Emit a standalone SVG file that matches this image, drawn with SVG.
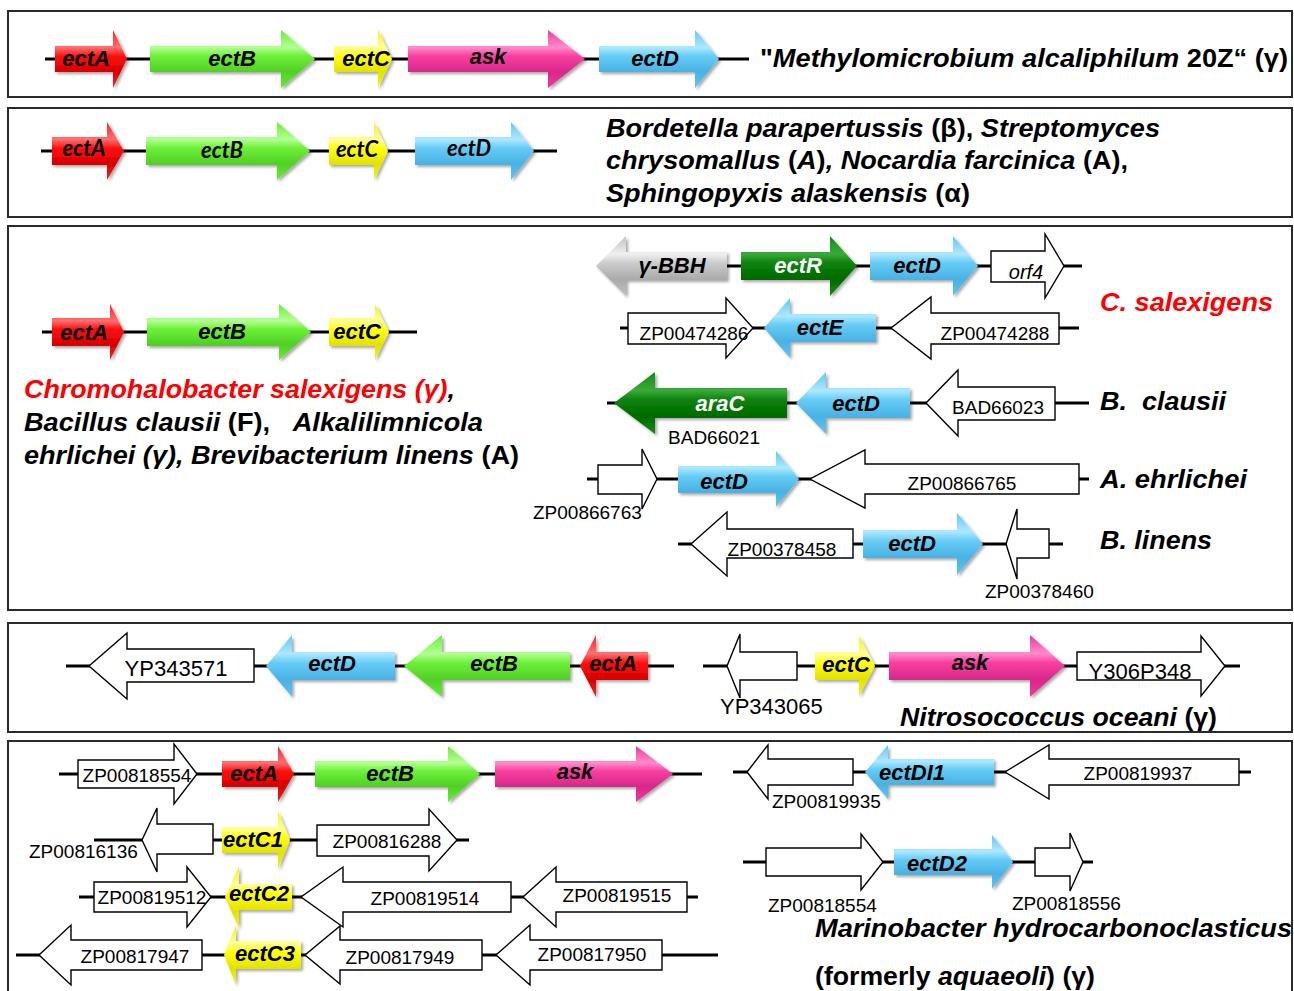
<svg xmlns="http://www.w3.org/2000/svg" width="1294" height="991" viewBox="0 0 1294 991">
<style>
.box{fill:#fff;stroke:#2a2a2a;stroke-width:2}
.bb{stroke:#000;stroke-width:3;fill:none}
.w{fill:#fff;stroke:#000;stroke-width:1.4}
.red{fill:url(#gRed);filter:url(#sh)}
.grn{fill:url(#gGrn);filter:url(#sh)}
.yel{fill:url(#gYel);filter:url(#sh)}
.pnk{fill:url(#gPnk);filter:url(#sh)}
.blu{fill:url(#gBlu);filter:url(#sh)}
.dgr{fill:url(#gDgr);filter:url(#sh)}
.gry{fill:url(#gGry);filter:url(#sh)}
text{font-family:"Liberation Sans",Arial,sans-serif}
.g{font-weight:bold;font-style:italic;font-size:22px;text-anchor:middle;fill:#000}
.gc{font-family:Lato,"Liberation Sans",sans-serif;font-weight:bold;font-style:italic;font-size:22px;text-anchor:middle;fill:#000}
.gw{fill:#fff}
.zp{font-size:19px;text-anchor:middle;fill:#000}
.zs{font-size:19px;fill:#000}
.sp{font-weight:bold;font-size:26px;fill:#000}
.i{font-style:italic}
.n{font-style:normal}
.rd{fill:#ff0000}
</style>
<defs>
<filter id="sh" x="-10%" y="-10%" width="125%" height="130%"><feDropShadow dx="2" dy="2" stdDeviation="1.5" flood-opacity="0.35"/></filter>
<linearGradient id="gRed" x1="0" y1="0" x2="0" y2="1"><stop offset="0" stop-color="#ff2020"/><stop offset="0.3" stop-color="#ff7070"/><stop offset="0.45" stop-color="#ff1010"/><stop offset="0.72" stop-color="#d80000"/><stop offset="1" stop-color="#ff2020"/></linearGradient>
<linearGradient id="gGrn" x1="0" y1="0" x2="0" y2="1"><stop offset="0" stop-color="#66ee33"/><stop offset="0.3" stop-color="#b4ff94"/><stop offset="0.45" stop-color="#6cf038"/><stop offset="0.72" stop-color="#50d024"/><stop offset="1" stop-color="#66ee33"/></linearGradient>
<linearGradient id="gYel" x1="0" y1="0" x2="0" y2="1"><stop offset="0" stop-color="#f5f500"/><stop offset="0.3" stop-color="#ffff99"/><stop offset="0.45" stop-color="#ffff10"/><stop offset="0.72" stop-color="#e2e200"/><stop offset="1" stop-color="#f5f500"/></linearGradient>
<linearGradient id="gPnk" x1="0" y1="0" x2="0" y2="1"><stop offset="0" stop-color="#f0379b"/><stop offset="0.3" stop-color="#ff8ccb"/><stop offset="0.45" stop-color="#f83fa0"/><stop offset="0.72" stop-color="#d8288a"/><stop offset="1" stop-color="#f0379b"/></linearGradient>
<linearGradient id="gBlu" x1="0" y1="0" x2="0" y2="1"><stop offset="0" stop-color="#5ec6f2"/><stop offset="0.3" stop-color="#aee8ff"/><stop offset="0.45" stop-color="#66ccf5"/><stop offset="0.72" stop-color="#48b2e4"/><stop offset="1" stop-color="#5ec6f2"/></linearGradient>
<linearGradient id="gDgr" x1="0" y1="0" x2="0" y2="1"><stop offset="0" stop-color="#128c12"/><stop offset="0.3" stop-color="#3aaa3a"/><stop offset="0.45" stop-color="#0a820a"/><stop offset="0.72" stop-color="#006a00"/><stop offset="1" stop-color="#128c12"/></linearGradient>
<linearGradient id="gGry" x1="0" y1="0" x2="0" y2="1"><stop offset="0" stop-color="#c0c0c0"/><stop offset="0.3" stop-color="#f0f0f0"/><stop offset="0.45" stop-color="#cccccc"/><stop offset="0.72" stop-color="#aaaaaa"/><stop offset="1" stop-color="#c0c0c0"/></linearGradient>
</defs>
<rect width="1294" height="991" fill="#fff"/>
<g id="panels">
<rect class="box" x="8" y="11" width="1284" height="86"/>
<rect class="box" x="8" y="108" width="1284" height="109"/>
<rect class="box" x="8" y="226" width="1284" height="384"/>
<rect class="box" x="8" y="623" width="1284" height="109"/>
<rect class="box" x="8" y="741" width="1284" height="260"/>
</g>
<g id="connectors">
<line class="bb" x1="45" y1="59" x2="749" y2="59"/>
<line class="bb" x1="41" y1="151" x2="557" y2="151"/>
<line class="bb" x1="42" y1="332" x2="417" y2="332"/>
<line class="bb" x1="727" y1="266" x2="1082" y2="266"/>
<line class="bb" x1="620" y1="328" x2="1079" y2="328"/>
<line class="bb" x1="607" y1="403" x2="1089" y2="403"/>
<line class="bb" x1="587" y1="479" x2="1089" y2="479"/>
<line class="bb" x1="678" y1="544" x2="1063" y2="544"/>
<line class="bb" x1="66" y1="666" x2="674" y2="666"/>
<line class="bb" x1="703" y1="666" x2="1240" y2="666"/>
<line class="bb" x1="59" y1="774" x2="702" y2="774"/>
<line class="bb" x1="94" y1="840" x2="469" y2="840"/>
<line class="bb" x1="79" y1="897" x2="698" y2="897"/>
<line class="bb" x1="16" y1="955" x2="718" y2="955"/>
<line class="bb" x1="733" y1="772" x2="1251" y2="772"/>
<line class="bb" x1="743" y1="862" x2="1093" y2="862"/>
</g>

<!-- Panel 1 -->
<g id="p1-ectA"><path class="red" d="M55 46 H113 V30 L127 59 L113 88 V72 H55 Z"/><text class="g" x="86" y="66">ectA</text></g>
<g id="p1-ectB"><path class="grn" d="M150 46 H281 V30 L315 59 L281 88 V72 H150 Z"/><text class="g" x="232" y="66">ectB</text></g>
<g id="p1-ectC"><path class="yel" d="M334 46 H378 V30 L392 59 L378 88 V72 H334 Z"/><text class="g" x="366" y="66">ectC</text></g>
<g id="p1-ask"><path class="pnk" d="M408 46 H548 V30 L585 59 L548 88 V72 H408 Z"/><text class="g" x="488" y="64">ask</text></g>
<g id="p1-ectD"><path class="blu" d="M599 46 H695 V30 L719 59 L695 88 V72 H599 Z"/><text class="g" x="655" y="66">ectD</text></g>
<g id="p1-label"><text class="sp" x="760" y="67" textLength="528" lengthAdjust="spacingAndGlyphs"><tspan>"</tspan><tspan class="i">Methylomicrobium alcaliphilum</tspan><tspan> 20Z“ (γ)</tspan></text></g>

<!-- Panel 2 -->
<g id="p2-ectA"><path class="red" d="M52 137 H107 V122 L124 151 L107 180 V165 H52 Z"/><text class="gc" x="84" y="156">ectA</text></g>
<g id="p2-ectB"><path class="grn" d="M146 137 H277 V122 L310 151 L277 180 V165 H146 Z"/><text class="gc" x="222" y="158">ectB</text></g>
<g id="p2-ectC"><path class="yel" d="M329 137 H374 V122 L388 151 L374 180 V165 H329 Z"/><text class="gc" x="357" y="157">ectC</text></g>
<g id="p2-ectD"><path class="blu" d="M415 137 H511 V122 L534 151 L511 180 V165 H415 Z"/><text class="gc" x="469" y="156">ectD</text></g>
<g id="p2-label">
<text class="sp" x="606" y="137" textLength="554" lengthAdjust="spacingAndGlyphs"><tspan class="i">Bordetella parapertussis</tspan> (β), <tspan class="i">Streptomyces</tspan></text>
<text class="sp" x="606" y="169" textLength="522" lengthAdjust="spacingAndGlyphs"><tspan class="i">chrysomallus</tspan> (<tspan class="i">A</tspan>)<tspan class="i">, Nocardia farcinica</tspan> (A),</text>
<text class="sp" x="606" y="202" textLength="364" lengthAdjust="spacingAndGlyphs"><tspan class="i">Sphingopyxis alaskensis</tspan> (α)</text>
</g>

<!-- Panel 3 left -->
<g id="p3-ectA"><path class="red" d="M52 318 H110 V304 L124 332 L110 360 V346 H52 Z"/><text class="g" x="84" y="340">ectA</text></g>
<g id="p3-ectB"><path class="grn" d="M147 318 H279 V304 L311 332 L279 360 V346 H147 Z"/><text class="g" x="222" y="339">ectB</text></g>
<g id="p3-ectC"><path class="yel" d="M329 318 H375 V304 L389 332 L375 360 V346 H329 Z"/><text class="g" x="357" y="339">ectC</text></g>
<g id="p3-label">
<text class="sp i" x="24" y="398" textLength="431" lengthAdjust="spacingAndGlyphs"><tspan class="rd">Chromohalobacter salexigens (γ)</tspan>,</text>
<text class="sp" x="24" y="431" textLength="459" lengthAdjust="spacingAndGlyphs"><tspan class="i">Bacillus clausii</tspan> (F), &#160;&#160;<tspan class="i">Alkalilimnicola</tspan></text>
<text class="sp" x="24" y="464" textLength="495" lengthAdjust="spacingAndGlyphs"><tspan class="i">ehrlichei (γ), Brevibacterium linens</tspan> (A)</text>
</g>

<!-- Panel 3 right: C. salexigens -->
<g id="cs-gBBH"><path class="gry" d="M727 252 H626 V236 L596 266 L626 296 V280 H727 Z"/><text class="g" x="672" y="273">γ-BBH</text></g>
<g id="cs-ectR"><path class="dgr" d="M741 252 H830 V236 L857 266 L830 296 V280 H741 Z"/><text class="g gw" x="798" y="273">ectR</text></g>
<g id="cs-ectD"><path class="blu" d="M870 252 H953 V236 L978 266 L953 296 V280 H870 Z"/><text class="g" x="917" y="273">ectD</text></g>
<g id="cs-orf4"><path class="w" d="M991 251 H1045 V234 L1064 266 L1045 298 V282 H991 Z"/><text x="1026" y="279" font-size="20" font-style="italic" text-anchor="middle">orf4</text></g>
<g id="cs-ZP00474286"><path class="w" d="M628 313 H726 V298 L753 328 L726 358 V344 H628 Z"/><text class="zp" x="694" y="340">ZP00474286</text></g>
<g id="cs-ectE"><path class="blu" d="M876 314 H790 V298 L764 328 L790 358 V342 H876 Z"/><text class="g" x="820" y="335">ectE</text></g>
<g id="cs-ZP00474288"><path class="w" d="M1059 313 H931 V297 L891 328 L931 359 V344 H1059 Z"/><text class="zp" x="995" y="340">ZP00474288</text></g>
<g id="cs-label"><text class="sp i rd" x="1100" y="311" textLength="173" lengthAdjust="spacingAndGlyphs">C. salexigens</text></g>

<!-- B. clausii -->
<g id="bc-araC"><path class="dgr" d="M787 388 H655 V372 L614 403 L655 434 V418 H787 Z"/><text class="g gw" x="720" y="411">araC</text><text class="zp" x="714" y="444">BAD66021</text></g>
<g id="bc-ectD"><path class="blu" d="M910 388 H826 V372 L796 403 L826 434 V418 H910 Z"/><text class="g" x="856" y="411">ectD</text></g>
<g id="bc-BAD66023"><path class="w" d="M1055 387 H958 V370 L926 403 L958 436 V420 H1055 Z"/><text class="zp" x="998" y="414">BAD66023</text></g>
<g id="bc-label"><text class="sp i" x="1100" y="410" textLength="126" lengthAdjust="spacingAndGlyphs">B. &#160;clausii</text></g>

<!-- A. ehrlichei -->
<g id="ae-ZP00866763"><path class="w" d="M598 465 H642 V449 L657 479 L642 509 V494 H598 Z"/><text class="zs" x="533" y="519">ZP00866763</text></g>
<g id="ae-ectD"><path class="blu" d="M678 466 H776 V451 L799 479 L776 507 V493 H678 Z"/><text class="g" x="724" y="489">ectD</text></g>
<g id="ae-ZP00866765"><path class="w" d="M1079 464 H865 V450 L810 479 L865 508 V494 H1079 Z"/><text class="zp" x="962" y="490">ZP00866765</text></g>
<g id="ae-label"><text class="sp i" x="1100" y="488" textLength="147" lengthAdjust="spacingAndGlyphs">A. ehrlichei</text></g>

<!-- B. linens -->
<g id="bl-ZP00378458"><path class="w" d="M853 529 H727 V512 L691 544 L727 576 V558 H853 Z"/><text class="zp" x="782" y="556">ZP00378458</text></g>
<g id="bl-ectD"><path class="blu" d="M863 530 H957 V513 L983 544 L957 575 V558 H863 Z"/><text class="g" x="912" y="551">ectD</text></g>
<g id="bl-ZP00378460"><path class="w" d="M1049 529 H1017 V509 L1006 544 L1017 579 V558 H1049 Z"/><text class="zs" x="985" y="598">ZP00378460</text></g>
<g id="bl-label"><text class="sp i" x="1100" y="549" textLength="112" lengthAdjust="spacingAndGlyphs">B. linens</text></g>

<!-- Panel 4 -->
<g id="no-YP343571"><path class="w" d="M254 649 H127 V633 L89 666 L127 699 V682 H254 Z"/><text x="176" y="676" font-size="22" text-anchor="middle">YP343571</text></g>
<g id="no-ectD"><path class="blu" d="M395 652 H292 V635 L266 666 L292 697 V680 H395 Z"/><text class="g" x="332" y="671">ectD</text></g>
<g id="no-ectB"><path class="grn" d="M570 652 H442 V635 L404 666 L442 697 V680 H570 Z"/><text class="g" x="494" y="671">ectB</text></g>
<g id="no-ectA"><path class="red" d="M648 652 H596 V635 L580 666 L596 697 V680 H648 Z"/><text class="g" x="613" y="671">ectA</text></g>
<g id="no-YP343065"><path class="w" d="M797 652 H740 V634 L727 666 L740 698 V680 H797 Z"/><text x="720" y="714" font-size="22">YP343065</text></g>
<g id="no-ectC"><path class="yel" d="M815 652 H859 V636 L875 666 L859 696 V680 H815 Z"/><text class="g" x="846" y="672">ectC</text></g>
<g id="no-ask"><path class="pnk" d="M889 652 H1030 V635 L1065 666 L1030 697 V680 H889 Z"/><text class="g" x="970" y="670">ask</text></g>
<g id="no-Y306P348"><path class="w" d="M1077 652 H1201 V636 L1225 666 L1201 696 V680 H1077 Z"/><text x="1140" y="679" font-size="22" text-anchor="middle">Y306P348</text></g>
<g id="no-label"><text class="sp" x="900" y="726" textLength="317" lengthAdjust="spacingAndGlyphs"><tspan class="i">Nitrosococcus oceani</tspan> (γ)</text></g>

<!-- Panel 5 left -->
<g id="mh-ZP00818554a"><path class="w" d="M78 760 H174 V744 L197 774 L174 804 V788 H78 Z"/><text class="zp" x="137" y="782">ZP00818554</text></g>
<g id="mh-ectA"><path class="red" d="M222 761 H278 V746 L294 774 L278 802 V787 H222 Z"/><text class="g" x="254" y="781">ectA</text></g>
<g id="mh-ectB"><path class="grn" d="M315 761 H448 V746 L480 774 L448 802 V787 H315 Z"/><text class="g" x="390" y="781">ectB</text></g>
<g id="mh-ask"><path class="pnk" d="M495 761 H636 V746 L673 774 L636 802 V787 H495 Z"/><text class="g" x="575" y="779">ask</text></g>
<g id="mh-ZP00816136"><path class="w" d="M213 824 H157 V808 L142 840 L157 872 V854 H213 Z"/><text class="zs" x="29" y="858">ZP00816136</text></g>
<g id="mh-ectC1"><path class="yel" d="M222 827 H278 V811 L290 840 L278 869 V853 H222 Z"/><text class="g" x="253" y="847">ectC1</text></g>
<g id="mh-ZP00816288"><path class="w" d="M317 825 H429 V809 L457 840 L429 871 V856 H317 Z"/><text class="zp" x="387" y="848">ZP00816288</text></g>
<g id="mh-ZP00819512"><path class="w" d="M94 882 H187 V867 L211 897 L187 927 V912 H94 Z"/><text class="zp" x="152" y="904">ZP00819512</text></g>
<g id="mh-ectC2"><path class="yel" d="M292 884 H239 V866 L225 897 L239 928 V910 H292 Z"/><text class="g" x="259" y="901">ectC2</text></g>
<g id="mh-ZP00819514"><path class="w" d="M511 882 H343 V867 L301 897 L343 927 V912 H511 Z"/><text class="zp" x="425" y="905">ZP00819514</text></g>
<g id="mh-ZP00819515"><path class="w" d="M687 882 H556 V867 L523 897 L556 927 V912 H687 Z"/><text class="zp" x="617" y="902">ZP00819515</text></g>
<g id="mh-ZP00817947"><path class="w" d="M202 940 H71 V925 L39 955 L71 985 V970 H202 Z"/><text class="zp" x="135" y="963">ZP00817947</text></g>
<g id="mh-ectC3"><path class="yel" d="M301 941 H236 V925 L224 955 L236 985 V969 H301 Z"/><text class="g" x="265" y="961">ectC3</text></g>
<g id="mh-ZP00817949"><path class="w" d="M482 940 H340 V926 L305 955 L340 984 V970 H482 Z"/><text class="zp" x="400" y="964">ZP00817949</text></g>
<g id="mh-ZP00817950"><path class="w" d="M662 940 H530 V925 L496 955 L530 985 V970 H662 Z"/><text class="zp" x="592" y="961">ZP00817950</text></g>

<!-- Panel 5 right -->
<g id="mh-ZP00819935"><path class="w" d="M853 759 H768 V745 L747 772 L768 799 V785 H853 Z"/><text class="zs" x="772" y="808">ZP00819935</text></g>
<g id="mh-ectDI1"><path class="blu" d="M994 759 H888 V745 L865 772 L888 799 V785 H994 Z"/><text class="g" x="912" y="780">ectDI1</text></g>
<g id="mh-ZP00819937"><path class="w" d="M1239 759 H1049 V745 L1005 772 L1049 799 V785 H1239 Z"/><text class="zp" x="1138" y="780">ZP00819937</text></g>
<g id="mh-ZP00818554b"><path class="w" d="M766 848 H861 V834 L883 862 L861 890 V876 H766 Z"/><text class="zs" x="768" y="912">ZP00818554</text></g>
<g id="mh-ectD2"><path class="blu" d="M894 849 H992 V835 L1013 862 L992 889 V875 H894 Z"/><text class="g" x="937" y="871">ectD2</text></g>
<g id="mh-ZP00818556"><path class="w" d="M1035 848 H1070 V833 L1083 862 L1070 891 V876 H1035 Z"/><text class="zs" x="1012" y="910">ZP00818556</text></g>
<g id="mh-label">
<text class="sp i" x="815" y="937" textLength="477" lengthAdjust="spacingAndGlyphs">Marinobacter hydrocarbonoclasticus</text>
<text class="sp" x="815" y="985" textLength="280" lengthAdjust="spacingAndGlyphs">(formerly <tspan class="i">aquaeoli</tspan>) (γ)</text>
</g>
</svg>
